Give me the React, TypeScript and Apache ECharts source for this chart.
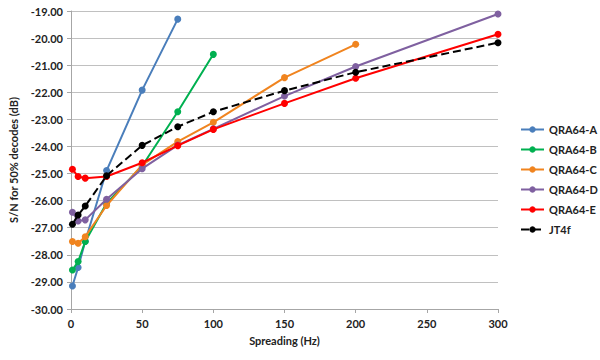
import React, { useEffect, useRef } from "react";
import * as echarts from "echarts";

const seriesNames = ["QRA64-A", "QRA64-B", "QRA64-C", "QRA64-D", "QRA64-E", "JT4f"];
const colors = ["#4a7ebb", "#00b050", "#f0841f", "#7f60a0", "#ff0000", "#000000"];

const qraA: [number, number][] = [[1, -29.15], [5, -28.47], [10, -27.5], [25, -24.89], [50, -21.92], [75, -19.3]];
const qraB: [number, number][] = [[1, -28.56], [5, -28.25], [10, -27.51], [25, -26.1], [50, -24.72], [75, -22.72], [100, -20.6]];
const qraC: [number, number][] = [[1, -27.51], [5, -27.57], [10, -27.33], [25, -26.18], [50, -24.68], [75, -23.82], [100, -23.11], [150, -21.46], [200, -20.23]];
const qraD: [number, number][] = [[1, -26.43], [5, -26.75], [10, -26.71], [25, -25.95], [50, -24.82], [75, -23.95], [100, -23.35], [150, -22.14], [200, -21.05], [300, -19.11]];
const qraE: [number, number][] = [[1, -24.84], [5, -25.11], [10, -25.17], [25, -25.11], [50, -24.6], [75, -23.97], [100, -23.37], [150, -22.41], [200, -21.48], [300, -19.86]];
const jt4f: [number, number][] = [[1, -26.87], [5, -26.53], [10, -26.2], [25, -25.08], [50, -23.96], [75, -23.27], [100, -22.72], [150, -21.94], [200, -21.26], [300, -20.17]];

const allData = [qraA, qraB, qraC, qraD, qraE, jt4f];

const font = "Lato, 'Liberation Sans', sans-serif";

export default function App() {
  const ref = useRef<HTMLDivElement>(null);
  useEffect(() => {
    if (!ref.current) return;
    const chart = echarts.init(ref.current, undefined, { renderer: "svg" });
    chart.setOption({
      animation: false,
      backgroundColor: "#ffffff",
      grid: { left: 70, right: 102, top: 11, bottom: 51 },
      legend: {
        orient: "vertical",
        left: 520,
        top: 123,
        padding: 0,
        itemWidth: 23,
        itemHeight: 8,
        itemGap: 7,
        textStyle: { fontFamily: font, fontSize: 11, fontWeight: "bold", color: "#222", lineHeight: 13 },
        data: seriesNames,
      },
      xAxis: {
        type: "value",
        min: 0,
        max: 300,
        interval: 50,
        name: "Spreading (Hz)",
        nameLocation: "middle",
        nameGap: 26,
        nameTextStyle: { fontFamily: font, fontSize: 11, fontWeight: "bold", color: "#222" },
        axisLine: { show: true, lineStyle: { color: "#a6a6a6" } },
        axisTick: { show: true, length: 4, lineStyle: { color: "#a6a6a6" } },
        axisLabel: { fontFamily: font, fontSize: 11, fontWeight: "bold", color: "#222", margin: 9 },
        splitLine: { show: false },
      },
      yAxis: {
        type: "value",
        min: -30,
        max: -19,
        interval: 1,
        name: "S/N for 50% decodes (dB)",
        nameLocation: "middle",
        nameGap: 52,
        nameTextStyle: { fontFamily: font, fontSize: 11, fontWeight: "bold", color: "#222" },
        axisLine: { show: true, lineStyle: { color: "#a6a6a6" } },
        axisTick: { show: true, length: 4, inside: false, lineStyle: { color: "#a6a6a6" } },
        axisLabel: {
          fontFamily: font,
          fontSize: 11,
          fontWeight: "bold",
          color: "#222",
          margin: 8,
          formatter: (v: number) => v.toFixed(2),
        },
        splitLine: { show: true, lineStyle: { color: "#c0c0c0", width: 1 } },
      },
      series: allData.map((d, i) => ({
        name: seriesNames[i],
        type: "line",
        data: d,
        color: colors[i],
        symbol: "circle",
        symbolSize: 7,
        lineStyle: { width: 2, type: i === 5 ? "dashed" : "solid", color: colors[i] },
        itemStyle: { color: colors[i] },
        z: i === 5 ? 10 : 2 + i,
      })),
    });
    return () => chart.dispose();
  }, []);
  return (
    <div
      ref={ref}
      style={{ position: "fixed", left: 0, top: 0, width: 600, height: 360, background: "#fff" }}
    />
  );
}
